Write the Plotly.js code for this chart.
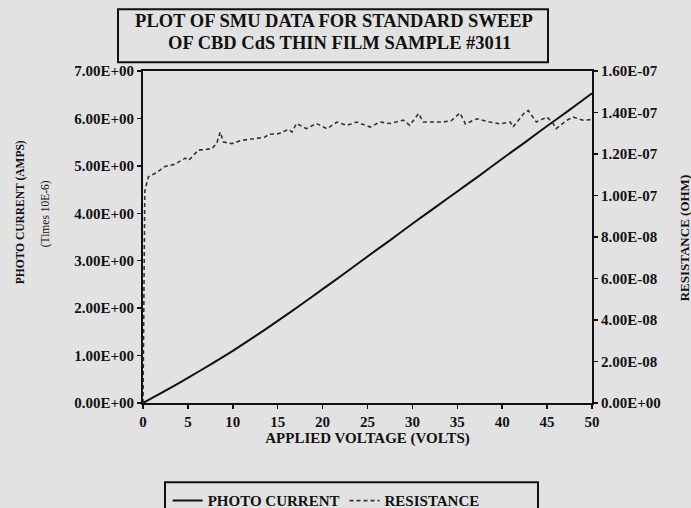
<!DOCTYPE html>
<html>
<head>
<meta charset="utf-8">
<script src="https://cdn.plot.ly/plotly-3.0.1.min.js"></script>
<style>html,body{margin:0;padding:0;background:#e2e2e2;}#chart{width:691px;height:508px;}</style>
</head>
<body>
<div id="chart"></div>
<script>
// Photo current (x 10E-6 A) vs applied voltage
const currentVoltage = [0, 2.5, 5, 7.5, 10, 12.5, 15, 17.5, 20, 22.5, 25, 27.5, 30, 32.5, 35, 37.5, 40, 42.5, 45, 47.5, 50];
const photoCurrent = [0, 0.26, 0.53, 0.81, 1.10, 1.41, 1.73, 2.06, 2.40, 2.74, 3.09, 3.43, 3.78, 4.12, 4.46, 4.80, 5.15, 5.49, 5.84, 6.18, 6.53];

// Resistance (ohm) vs applied voltage
const resistanceVoltage = [0, 0.2, 0.6, 1.5, 2.45, 3.5, 4.7, 5.1, 6.2, 6.7, 7.65, 8.2, 8.6, 8.95, 9.9, 11.0, 12.5, 13.6, 14.0, 15.1, 16.2, 16.6, 17.1, 18.2, 19.3, 20.5, 21.6, 22.7, 23.8, 25.3, 26.4, 27.5, 29.0, 29.7, 30.7, 31.2, 32.3, 33.4, 34.3, 35.3, 35.9, 37.2, 38.6, 39.8, 40.9, 41.2, 42.4, 42.9, 43.8, 45.0, 45.7, 46.0, 47.2, 47.9, 49.0, 50.0];
const resistance = [0.0, 1.02e-7, 1.09e-7, 1.11e-7, 1.14e-7, 1.15e-7, 1.18e-7, 1.17e-7, 1.22e-7, 1.22e-7, 1.226e-7, 1.25e-7, 1.306e-7, 1.258e-7, 1.25e-7, 1.266e-7, 1.274e-7, 1.282e-7, 1.295e-7, 1.298e-7, 1.318e-7, 1.306e-7, 1.347e-7, 1.322e-7, 1.347e-7, 1.322e-7, 1.354e-7, 1.338e-7, 1.354e-7, 1.33e-7, 1.354e-7, 1.347e-7, 1.363e-7, 1.338e-7, 1.395e-7, 1.354e-7, 1.354e-7, 1.354e-7, 1.36e-7, 1.398e-7, 1.345e-7, 1.37e-7, 1.354e-7, 1.345e-7, 1.354e-7, 1.33e-7, 1.395e-7, 1.41e-7, 1.354e-7, 1.378e-7, 1.345e-7, 1.322e-7, 1.363e-7, 1.378e-7, 1.363e-7, 1.366e-7];

// Tick labels
const xTickVals = [0, 5, 10, 15, 20, 25, 30, 35, 40, 45, 50];
const xTickText = ["0", "5", "10", "15", "20", "25", "30", "35", "40", "45", "50"];
const yTickVals = [0, 1, 2, 3, 4, 5, 6, 7];
const yTickText = ["0.00E+00", "1.00E+00", "2.00E+00", "3.00E+00", "4.00E+00", "5.00E+00", "6.00E+00", "7.00E+00"];
const y2TickVals = [0, 2e-8, 4e-8, 6e-8, 8e-8, 1e-7, 1.2e-7, 1.4e-7, 1.6e-7];
const y2TickText = ["0.00E+00", "2.00E-08", "4.00E-08", "6.00E-08", "8.00E-08", "1.00E-07", "1.20E-07", "1.40E-07", "1.60E-07"];

const serif = "Liberation Serif, Times New Roman, serif";
const ink = "#111111";

const traces = [
  {
    x: currentVoltage, y: photoCurrent, type: "scatter", mode: "lines",
    name: "PHOTO CURRENT", line: {color: ink, width: 2, shape: "spline", smoothing: 0.8}, yaxis: "y"
  },
  {
    x: resistanceVoltage, y: resistance, type: "scatter", mode: "lines",
    name: "RESISTANCE", line: {color: "#333333", width: 1.6, dash: "4px,3px"}, yaxis: "y2"
  }
];

const tickFont = {family: serif, size: 15, color: ink, weight: "bold"};

const layout = {
  width: 691, height: 508,
  paper_bgcolor: "#e2e2e2", plot_bgcolor: "#e2e2e2",
  margin: {l: 143, r: 99, t: 71, b: 105, autoexpand: false},
  showlegend: true,
  title: {
    text: "<b>PLOT OF SMU DATA FOR STANDARD SWEEP</b>",
    font: {family: serif, size: 18.5, color: ink},
    x: 334 / 691, xref: "container", xanchor: "center",
    y: 1 - 21 / 508, yref: "container", yanchor: "middle"
  },
  xaxis: {
    range: [0, 50], tickvals: xTickVals, ticktext: xTickText,
    showgrid: false, zeroline: false, showline: true, linecolor: ink, linewidth: 2,
    mirror: true, ticks: "outside", ticklen: 4, tickwidth: 1.5, tickcolor: ink,
    tickfont: {family: serif, size: 15, color: ink, weight: "bold"},
    title: {text: "<b>APPLIED VOLTAGE (VOLTS)</b>", font: {family: serif, size: 15, color: ink}, standoff: 2}
  },
  yaxis: {
    range: [0, 7], tickvals: yTickVals, ticktext: yTickText,
    showgrid: false, zeroline: false, showline: true, linecolor: ink, linewidth: 2,
    ticks: "outside", ticklen: 4, tickwidth: 1.5, tickcolor: ink, tickfont: tickFont
  },
  yaxis2: {
    range: [0, 1.6e-7], tickvals: y2TickVals, ticktext: y2TickText,
    overlaying: "y", side: "right",
    showgrid: false, zeroline: false, showline: true, linecolor: ink, linewidth: 2,
    ticks: "outside", ticklen: 4, tickwidth: 1.5, tickcolor: ink, tickfont: tickFont
  },
  legend: {
    orientation: "h", x: 0.055, xanchor: "left", y: -0.245, yanchor: "top",
    bgcolor: "rgba(0,0,0,0)", borderwidth: 0,
    font: {family: serif, size: 15, color: ink, weight: "bold"}
  },
  annotations: [
    {
      text: "<b>OF CBD CdS THIN FILM SAMPLE #3011</b>", xref: "paper", yref: "paper",
      x: (339 - 143) / 449, y: (402.7 - 43) / 332, xanchor: "center", yanchor: "middle",
      showarrow: false, font: {family: serif, size: 18.5, color: ink}
    },
    {
      text: "<b>PHOTO CURRENT (AMPS)</b>", xref: "paper", yref: "paper",
      x: (20 - 143) / 449, y: (402.7 - 212) / 332, xanchor: "center", yanchor: "middle",
      textangle: -90, showarrow: false, font: {family: serif, size: 11.5, color: ink}
    },
    {
      text: "(Times 10E-6)", xref: "paper", yref: "paper",
      x: (45 - 143) / 449, y: (402.7 - 214) / 332, xanchor: "center", yanchor: "middle",
      textangle: -90, showarrow: false, font: {family: serif, size: 11.5, color: ink}
    },
    {
      text: "<b>RESISTANCE (OHM)</b>", xref: "paper", yref: "paper",
      x: (684 - 143) / 449, y: (402.7 - 238) / 332, xanchor: "center", yanchor: "middle",
      textangle: -90, showarrow: false, font: {family: serif, size: 13, color: ink}
    }
  ],
  shapes: [
    {
      type: "rect", xref: "paper", yref: "paper",
      x0: (118 - 143) / 449, x1: (548 - 143) / 449,
      y0: (402.7 - 62) / 332, y1: (402.7 - 9) / 332,
      line: {color: ink, width: 2}
    },
    {
      type: "rect", xref: "paper", yref: "paper",
      x0: (165 - 143) / 449, x1: (538 - 143) / 449,
      y0: (402.7 - 515) / 332, y1: (402.7 - 482) / 332,
      line: {color: ink, width: 2}
    }
  ]
};

Plotly.newPlot("chart", traces, layout, {displayModeBar: false, staticPlot: true});
</script>
</body>
</html>
